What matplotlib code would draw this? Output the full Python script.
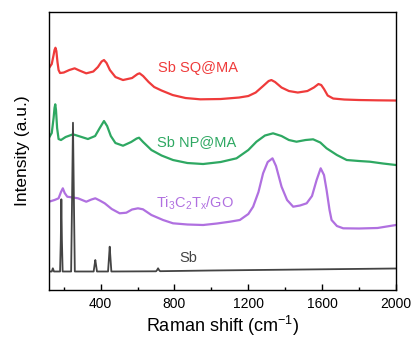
import matplotlib
matplotlib.use('Agg')
import matplotlib.pyplot as plt
from matplotlib.ticker import MultipleLocator

plt.rcParams['font.family'] = ['Liberation Sans', 'DejaVu Sans']
plt.rcParams['mathtext.fontset'] = 'custom'
plt.rcParams['mathtext.rm'] = 'Liberation Sans'
plt.rcParams['mathtext.default'] = 'regular'

# values (Raman shift in cm-1, intensity in arbitrary offset units)
sq_x = [120, 135, 145, 150, 155, 160, 166, 172, 180, 200, 230, 259, 285, 322, 360, 385, 405, 418,
        432, 450, 480, 521, 570, 600, 611, 630, 660, 690, 730, 790, 860, 940, 1050, 1150, 1200,
        1240, 1280, 1310, 1325, 1345, 1380, 1420, 1468, 1520, 1555, 1580, 1595, 1610, 1630, 1660,
        1720, 1800, 1900, 2000]
sq_y = [222, 226, 235, 240, 242.3, 239, 228, 220, 217, 217.5, 220, 221.7, 219.5, 216.7, 218.5, 223,
        228.5, 230, 227, 220, 213, 210, 212, 216, 216.7, 214, 208, 203, 199.5, 195, 192, 190.7,
        191, 192.5, 194, 197.5, 204, 209, 210, 208, 202.5, 199, 197.5, 199, 202.5, 206, 205, 201,
        194.5, 191.5, 190.5, 190, 189.7, 189.5]

np_x = [120, 135, 145, 150, 154, 158, 164, 172, 185, 210, 250, 280, 331, 370, 395, 418, 435, 455,
        480, 521, 565, 595, 608, 630, 675, 730, 792, 870, 955, 1050, 1136, 1200, 1244, 1290, 1334,
        1380, 1420, 1461, 1510, 1551, 1590, 1624, 1680, 1733, 1800, 1859, 1930, 2000]
np_y = [152.3, 157, 172, 182, 185.7, 180, 162, 151, 150, 153, 155.7, 154, 151, 154, 162, 169, 164,
        154, 147, 144.3, 148, 151.5, 152.3, 148, 140, 134.5, 130, 127, 126, 128, 131.7, 140, 148.3,
        154.5, 156.7, 154, 150, 148.3, 150, 150.7, 147.5, 141.7, 135, 130, 129, 128.3, 126.5, 125]

go_x = [120, 150, 172, 185, 195, 205, 219, 250, 277, 322, 350, 371, 395, 422, 460, 503, 539, 570,
        602, 629, 675, 738, 792, 870, 955, 1030, 1100, 1154, 1200, 1226, 1255, 1280, 1305, 1331,
        1350, 1380, 1410, 1443, 1480, 1516, 1545, 1570, 1592, 1610, 1624, 1640, 1651, 1680, 1714,
        1800, 1900, 2000]
go_y = [88.3, 90, 91.7, 98, 101.7, 97, 93.3, 92.5, 91.7, 88.3, 90.5, 91.7, 89.5, 86.7, 81, 76.7,
        77.3, 80.5, 81.7, 80.7, 75, 70, 66.7, 65.5, 65, 66.5, 68.3, 70, 76, 83.3, 98, 116.7, 128,
        131.7, 124, 103.3, 90, 83.3, 84.5, 86.7, 94, 110, 121.7, 115, 100, 80, 70, 64, 61.7, 61.5,
        62, 65]

sb_x = [120, 135, 141, 147, 180, 184, 187, 190, 194, 240, 245, 250, 255, 260, 362, 367, 371, 375,
        380, 440, 445, 449, 453, 458, 700, 706, 711, 716, 722, 1000, 1500, 2000]
sb_y = [18.5, 18.5, 21.7, 18.5, 18.5, 50, 90.7, 50, 18.5, 18.5, 90, 167.3, 90, 18.5, 18.5, 25, 30,
        25, 18.5, 18.5, 32, 43.3, 32, 18.5, 18.7, 20, 21.7, 20, 18.8, 19.5, 20.5, 21.5]

names = ['Sb SQ@MA', 'Sb NP@MA', r'Ti$_{3}$C$_{2}$T$_{x}$/GO', 'Sb']
colors = ['#ef3b3b', '#2ea862', '#b070e0', '#444444']

fig = plt.figure(figsize=(4.13, 3.44), dpi=100)
ax = fig.add_axes([0.1186, 0.157, 0.8402, 0.808])

ax.plot(sq_x, sq_y, color=colors[0], lw=1.6)
ax.plot(np_x, np_y, color=colors[1], lw=1.6)
ax.plot(go_x, go_y, color=colors[2], lw=1.6)
ax.plot(sb_x, sb_y, color=colors[3], lw=1.3)

ax.text(709, 222, names[0], color=colors[0], fontsize=10.5, va='center')
ax.text(704, 148, names[1], color=colors[1], fontsize=10.5, va='center')
ax.text(698, 87, names[2], color=colors[2], fontsize=10.5, va='center')
ax.text(828, 32, names[3], color=colors[3], fontsize=10.5, va='center')

ax.set_xlim(120, 2000)
ax.set_ylim(0, 278)
ax.xaxis.set_minor_locator(MultipleLocator(200))
ax.set_xticks([400, 800, 1200, 1600, 2000])
ax.tick_params(axis='x', which='major', direction='in', length=4, width=1, labelsize=10, pad=5)
ax.tick_params(axis='x', which='minor', direction='in', length=2, width=1)
ax.set_yticks([])
for s in ax.spines.values():
    s.set_linewidth(1.0)

ax.set_xlabel('Raman shift (cm$^{-1}$)', fontsize=13, labelpad=2)
ax.set_ylabel('Intensity (a.u.)', fontsize=12.5, labelpad=14)

fig.savefig('out.png', dpi=100)
